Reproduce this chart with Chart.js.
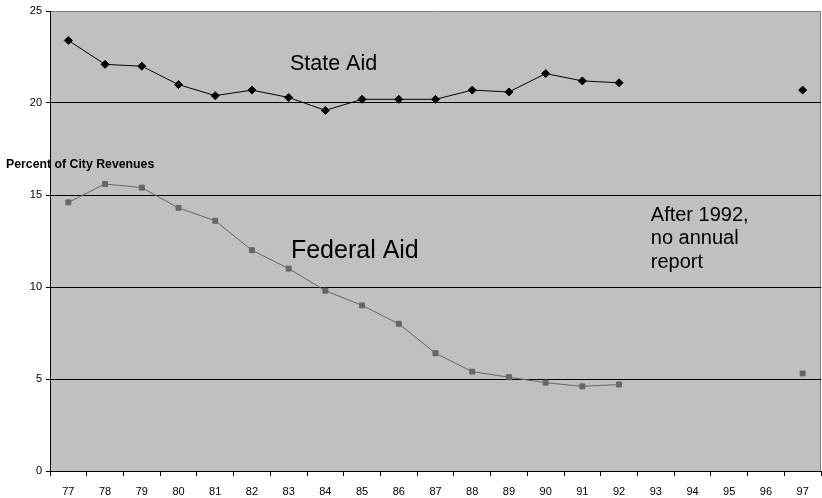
<!DOCTYPE html>
<html>
<head>
<meta charset="utf-8">
<script src="https://cdn.jsdelivr.net/npm/chart.js@4"></script>
<style>
html,body{margin:0;padding:0;background:#fff;}
#wrap{width:822px;height:498px;}
</style>
</head>
<body>
<div id="wrap"><canvas id="c" width="822" height="498"></canvas></div>
<script>
const years = ['77','78','79','80','81','82','83','84','85','86','87','88','89','90','91','92','93','94','95','96','97'];
const stateAid = [23.4,22.1,22.0,21.0,20.4,20.7,20.3,19.6,20.2,20.2,20.2,20.7,20.6,21.6,21.2,21.1,null,null,null,null,20.7];
const federalAid = [14.6,15.6,15.4,14.3,13.6,12.0,11.0,9.8,9.0,8.0,6.4,5.4,5.1,4.8,4.6,4.7,null,null,null,null,5.3];
const yTicks = [0,5,10,15,20,25];

const FONT = "'Liberation Sans', Arial, sans-serif";

const bgPlugin = {
  id: 'bg',
  beforeDraw(chart) {
    const {ctx, chartArea: a} = chart;
    ctx.save();
    ctx.fillStyle = '#c0c0c0';
    ctx.fillRect(a.left, a.top, a.right - a.left, a.bottom - a.top);
    ctx.strokeStyle = '#808080';
    ctx.lineWidth = 1;
    ctx.beginPath();
    ctx.moveTo(a.left, a.top + 0.5);
    ctx.lineTo(a.right - 0.5, a.top + 0.5);
    ctx.lineTo(a.right - 0.5, a.bottom);
    ctx.stroke();
    ctx.restore();
  },
  afterDraw(chart) {
    const {ctx} = chart;
    const x = chart.scales.x, y = chart.scales.y;
    ctx.save();
    ctx.fillStyle = '#000';
    ctx.textBaseline = 'middle';
    ctx.textAlign = 'left';
    ctx.font = 'bold 12.3px ' + FONT;
    ctx.fillText('Percent of City Revenues', 6, y.getPixelForValue(16.63));
    ctx.font = '21.5px ' + FONT;
    ctx.fillText('State Aid', x.getPixelForValue(5) + 38, y.getPixelForValue(22.12));
    ctx.font = '25px ' + FONT;
    ctx.fillText('Federal Aid', x.getPixelForValue(5) + 39, y.getPixelForValue(11.96));
    ctx.font = '20px ' + FONT;
    const ax = x.getPixelForValue(16) - 5;
    ctx.fillText('After 1992,', ax, y.getPixelForValue(13.91));
    ctx.fillText('no annual', ax, y.getPixelForValue(12.61));
    ctx.fillText('report', ax, y.getPixelForValue(11.31));
    ctx.restore();
  }
};

new Chart(document.getElementById('c'), {
  type: 'line',
  data: {
    labels: years,
    datasets: [
      {
        label: 'State Aid',
        data: stateAid,
        borderColor: '#000',
        backgroundColor: '#000',
        borderWidth: 1,
        pointStyle: 'rectRot',
        pointRadius: 4,
        pointHoverRadius: 4,
        pointBorderWidth: 1,
        spanGaps: false,
        tension: 0
      },
      {
        label: 'Federal Aid',
        data: federalAid,
        borderColor: '#666',
        backgroundColor: '#666',
        borderWidth: 1,
        pointStyle: 'rect',
        pointRadius: 3.5,
        pointHoverRadius: 3.5,
        pointBorderWidth: 1,
        spanGaps: false,
        tension: 0
      }
    ]
  },
  options: {
    responsive: false,
    animation: false,
    devicePixelRatio: 1,
    layout: {autoPadding: false, padding: {top: 11, right: 1, left: 0, bottom: 0}},
    plugins: {legend: {display: false}, tooltip: {enabled: false}},
    scales: {
      x: {
        offset: true,
        grid: {
          offset: true,
          drawOnChartArea: false,
          drawTicks: true,
          tickLength: 5,
          color: '#000',
          tickColor: '#000'
        },
        border: {color: '#000', width: 1},
        ticks: {
          color: '#000',
          font: {family: FONT, size: 11},
          padding: 9,
          maxRotation: 0,
          autoSkip: false
        },
        afterFit(s) { s.height = 27; s.paddingLeft = 0; s.paddingRight = 0; }
      },
      y: {
        min: 0,
        max: 25,
        afterBuildTicks(s) { s.ticks = yTicks.map(v => ({value: v})); },
        grid: {
          color: (c) => (c.tick && (c.tick.value === 0 || c.tick.value === 25)) ? 'rgba(0,0,0,0)' : '#000',
          tickColor: '#000',
          drawTicks: true,
          tickLength: 4,
          lineWidth: 1
        },
        border: {color: '#000', width: 1},
        ticks: {
          color: '#000',
          font: {family: FONT, size: 11},
          padding: 4
        },
        afterFit(s) { s.width = 50; s.paddingTop = 0; s.paddingBottom = 0; }
      }
    }
  },
  plugins: [bgPlugin]
});
</script>
</body>
</html>
